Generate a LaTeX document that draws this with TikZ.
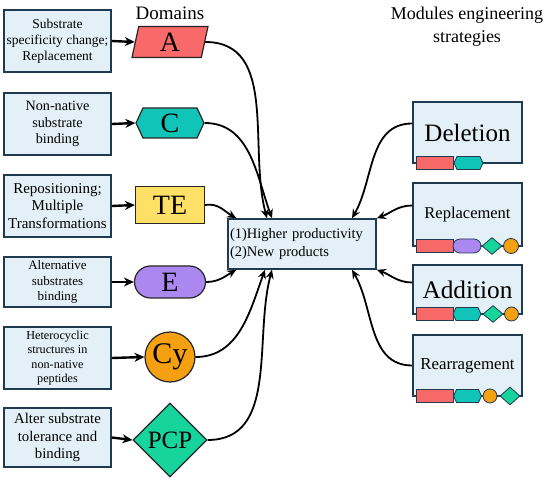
\documentclass[tikz,border=0pt]{standalone}
\usepackage{fontspec}
\setmainfont{Liberation Serif}
\usetikzlibrary{arrows.meta,shapes.geometric,shapes.symbols,shapes.misc}

\definecolor{boxfill}{HTML}{E3F0F7}
\definecolor{boxline}{HTML}{203A4F}
\definecolor{colA}{HTML}{F86A6A}
\definecolor{colC}{HTML}{10C4B8}
\definecolor{colTE}{HTML}{FFE066}
\definecolor{colE}{HTML}{AA88F0}
\definecolor{colCy}{HTML}{F5A010}
\definecolor{colPCP}{HTML}{17D49C}

\tikzset{
  infobox/.style={draw=boxline,fill=boxfill,line width=1.6pt,align=center,inner sep=0pt},
  shapeA/.style={trapezium,trapezium stretches body,trapezium left angle=70,trapezium right angle=110,fill=colA},
  shapeC/.style={signal,signal to=east and west,signal pointer angle=130,fill=colC},
  shapeTE/.style={rectangle,fill=colTE},
  shapeE/.style={rounded rectangle,fill=colE},
  shapeCy/.style={circle,fill=colCy},
  shapePCP/.style={diamond,fill=colPCP},
  dom/.style={draw=black!85,line width=1.2pt,inner sep=0pt,font=\fontsize{28}{28}\selectfont},
  mini/.style={draw=boxline,line width=0.8pt,inner sep=0pt,minimum height=13pt},
  feed/.style={-{Stealth[length=10pt,width=9pt]},line width=2.4pt},
  link/.style={-{Stealth[length=9pt,width=8pt]},line width=1.8pt}
}

\begin{document}
\begin{tikzpicture}[x=1pt,y=-1pt]
  \useasboundingbox (0,0) rectangle (550,484);
  % titles
  \node[font=\fontsize{19}{19}\selectfont] (domt) at (170,13) {Domains};
  \node[align=center,font=\fontsize{18}{23}\selectfont] (modt) at (467,27) {Modules engineering\\strategies};

  % left boxes
  \foreach \n/\yc/\hh/\fs/\ls/\txt in {
    1/41/62/13.5/16/{Substrate\\specificity change;\\Replacement},
    2/124/62/14.2/16.7/{Non-native\\substrate\\binding},
    3/206/62/15/17.3/{Repositioning;\\Multiple\\Transformations},
    4/282/50/13/15.5/{Alternative\\substrates\\binding},
    5/358/62/12.2/14.6/{Heterocyclic\\structures in\\non-native\\peptides},
    6/437.5/59/14.8/17.5/{Alter substrate\\tolerance and\\binding}}
  {
    \node[infobox,minimum width=107pt,minimum height=\hh pt,font=\fontsize{\fs}{\ls}\selectfont] (b\n) at (57.5,\yc) {\txt};
  }

  % domains
  \node[dom,shapeA,minimum width=76pt,minimum height=31pt] (d1) at (170,42) {A};
  \node[dom,shapeC,minimum width=68pt,minimum height=30pt] (d2) at (170,123) {C};
  \node[dom,shapeTE,minimum width=69pt,minimum height=37pt] (d3) at (170,205) {TE};
  \node[dom,shapeE,minimum width=71pt,minimum height=32pt] (d4) at (170,282) {E};
  \node[dom,shapeCy,minimum size=50pt,font=\fontsize{30}{30}\selectfont] (d5) at (170,357) {Cy};
  \node[dom,shapePCP,minimum size=74pt,font=\fontsize{25}{25}\selectfont] (d6) at (170,440) {PCP};

  \foreach \n in {1,...,6}
    \draw[feed] (b\n.east) -- (d\n.west);

  % result
  \node[infobox,text width=144pt,minimum height=50pt,align=left,inner sep=2pt,font=\fontsize{14.5}{18}\selectfont] (res) at (302,244) {(1)Higher productivity\\(2)New products};
  \coordinate (in1) at ([xshift=-35pt]res.north);
  \coordinate (in2) at ([xshift=-30pt]res.north);
  \coordinate (in3) at ([xshift=9pt]res.north west);
  \coordinate (in4) at ([xshift=9pt]res.south west);
  \coordinate (in5) at ([xshift=-37pt]res.south);
  \coordinate (in6) at ([xshift=-30pt]res.south);

  \foreach \n/\ou/\ia in {1/0/105,2/0/110,3/10/150,4/0/210,5/0/250,6/0/255}
    \draw[link] (d\n.east) to[out=\ou,in=\ia] (in\n);

  % module boxes
  \foreach \n/\yc/\hh/\fs/\txt in {
    1/132.5/61/25/Deletion,
    2/214.5/63/16.5/Replacement,
    3/289.5/49/25.3/Addition,
    4/365.5/61/16.8/Rearragement}
  {
    \node[infobox,minimum width=109pt,minimum height=\hh pt,font=\fontsize{\fs}{\fs}\selectfont] (r\n) at (467.5,\yc) {\txt};
  }
  \coordinate (out1) at ([xshift=50pt]res.north);
  \coordinate (out2) at (res.north east);
  \coordinate (out3) at (res.south east);
  \coordinate (out4) at ([xshift=50pt]res.south);
  \foreach \n/\dy/\ia in {1/9/60,2/9/20,3/7/-20,4/0/-60}
    \draw[link] ([yshift=\dy pt]r\n.west) to[out=180,in=\ia] (out\n);

  % small domains
  \foreach \k/\y in {1/163,2/246,3/314,4/396}
    \node[mini,shapeA,trapezium left angle=58,trapezium right angle=122,minimum width=37pt] (p\k) at (434.5,\y) {};
  \foreach \k/\y/\s/\x/\w/\h in {
    1/163/shapeC/468.5/29/13,
    2/246/shapeE/467/28/14, 2/246/shapePCP/492/20/17, 2/246/shapeCy/511/15/15,
    3/314/shapeC/467/28/13, 3/314/shapePCP/493/20/17, 3/314/shapeCy/511.5/14/14,
    4/396/shapeC/467.5/28/13, 4/396/shapeCy/490/14/14, 4/396/shapePCP/510/20/18}
    \node[mini,\s,minimum width=\w pt,minimum height=\h pt] (m\k\s) at (\x,\y) {};
\end{tikzpicture}
\end{document}
